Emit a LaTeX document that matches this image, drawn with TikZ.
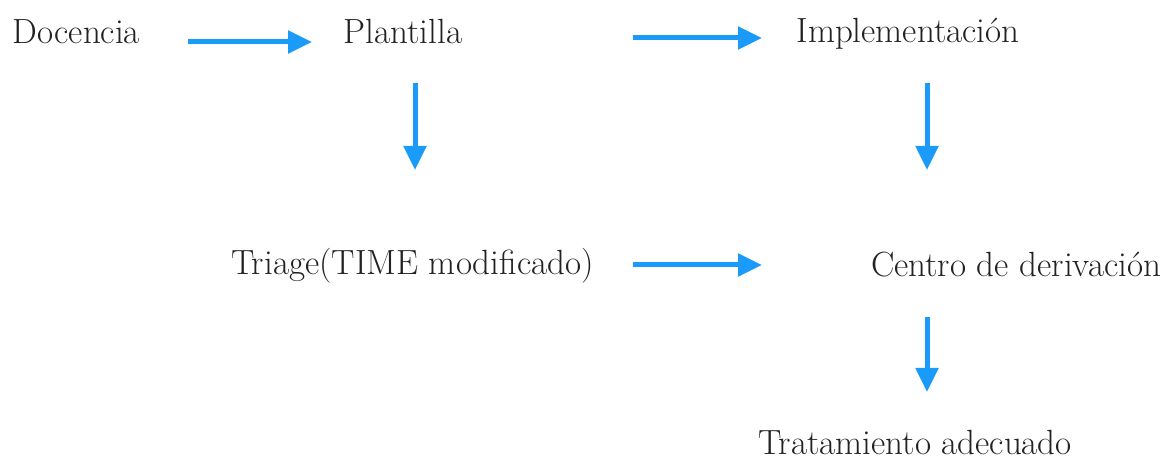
\documentclass[tikz,border=0pt]{standalone}
\usetikzlibrary{arrows.meta, positioning}
\definecolor{flowblue}{HTML}{1A9BFA}
\definecolor{ink}{HTML}{222222}

\begin{document}
\begin{tikzpicture}[x=0.5pt, y=-0.5pt,
    lbl/.style={inner sep=0pt, anchor=base, text=ink,
      font=\fontsize{17.5}{21}\selectfont},
    flow/.style={flowblue, line width=2.5pt,
      -{Triangle[length=12pt, width=11pt]}}]
  \useasboundingbox (0,0) rectangle (1167,459);
  % Top row
  \node[lbl] (doc) at (76.5,44) {Docencia};
  \node[lbl] (pla) at (403,44) {Plantilla};
  \node[lbl] (imp) at (908,43) {Implementación};
  % Middle row
  \node[lbl] (tri) at (412.5,275) {Triage(TIME modificado)};
  \node[lbl] (cen) at (1016,277) {Centro de derivación};
  % Bottom
  \node[lbl] (tra) at (915,455) {Tratamiento adecuado};
  % Arrows
  \draw[flow] ([shift={(111.5,-2)}]doc.base) -- ([shift={(-91,-2)}]pla.base);
  \draw[flow] ([shift={(230,-6)}]pla.base) -- ([shift={(-146,-5)}]imp.base);
  \draw[flow] ([shift={(12,39)}]pla.base) -- ([shift={(2.5,-105)}]tri.base);
  \draw[flow] ([shift={(19,40)}]imp.base) -- ([shift={(-89,-107)}]cen.base);
  \draw[flow] ([shift={(220.5,-10)}]tri.base) -- ([shift={(-254,-12)}]cen.base);
  \draw[flow] ([shift={(-89,40)}]cen.base) -- ([shift={(12,-63)}]tra.base);
\end{tikzpicture}
\end{document}
